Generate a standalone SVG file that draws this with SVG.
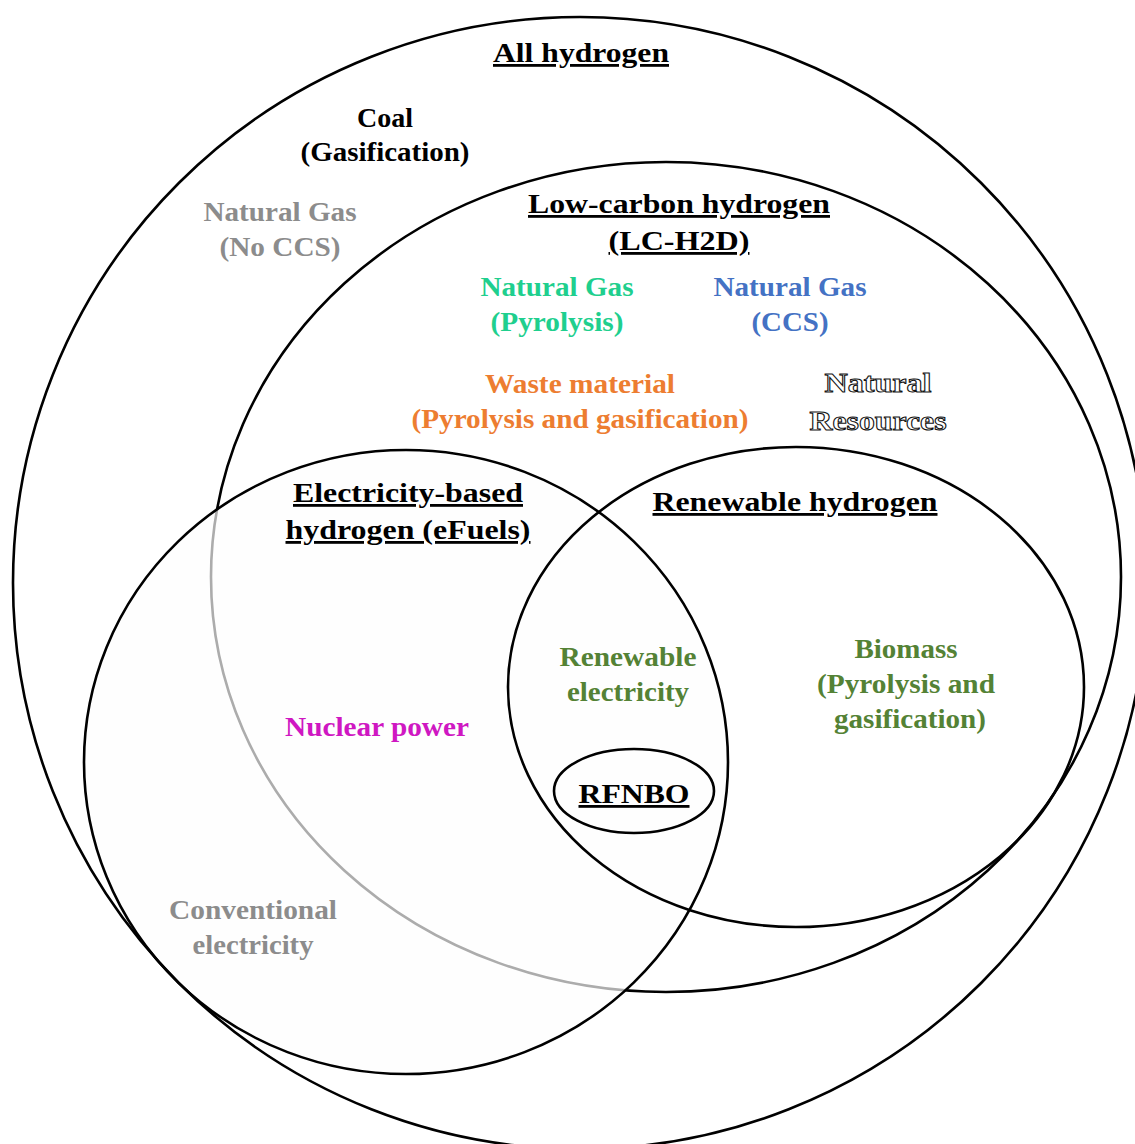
<svg xmlns="http://www.w3.org/2000/svg" width="1135" height="1144" viewBox="0 0 1135 1144">
<style>
.ring{fill:none;stroke:#000;stroke-width:2.6}
.t{font-family:"Liberation Serif","Times New Roman",serif;font-weight:bold;font-size:28px;text-anchor:middle}
.u{text-decoration:underline}
.blk{fill:#000}
.gry{fill:#8c8c8c}
.teal{fill:#1fcf8e}
.blue{fill:#4472c4}
.orng{fill:#ed7d31}
.grn{fill:#548235}
.mag{fill:#cf17c2}
.out{fill:#fff;stroke:#111;stroke-width:1}
</style>
<rect width="1135" height="1144" fill="#fff"/>
<g id="connectors"></g>
<g id="low-carbon">
<ellipse class="ring" cx="666" cy="577" rx="455" ry="415"/>
</g>
<g id="electricity">
<ellipse cx="406" cy="762" rx="322" ry="312" fill="#fdfdfd" fill-opacity="0.68" stroke="#000" stroke-width="2.6"/>
</g>
<g id="all-hydrogen">
<ellipse class="ring" cx="580" cy="583" rx="567" ry="566"/>
</g>
<g id="renewable">
<ellipse class="ring" cx="796" cy="687" rx="288" ry="240"/>
</g>
<g id="rfnbo">
<ellipse class="ring" cx="634" cy="791" rx="80" ry="42"/>
</g>
<g id="labels">
<text class="t blk u" x="581" y="62" textLength="176" lengthAdjust="spacingAndGlyphs">All hydrogen</text>
<text class="t blk" x="385" y="127">Coal</text>
<text class="t blk" x="385" y="161" textLength="169" lengthAdjust="spacingAndGlyphs">(Gasification)</text>
<text class="t gry" x="280" y="221" textLength="153" lengthAdjust="spacingAndGlyphs">Natural Gas</text>
<text class="t gry" x="280" y="256" textLength="121" lengthAdjust="spacingAndGlyphs">(No CCS)</text>
<text class="t blk u" x="679" y="213" textLength="302" lengthAdjust="spacingAndGlyphs">Low-carbon hydrogen</text>
<text class="t blk u" x="679" y="250" textLength="141" lengthAdjust="spacingAndGlyphs">(LC-H2D)</text>
<text class="t teal" x="557" y="296" textLength="153" lengthAdjust="spacingAndGlyphs">Natural Gas</text>
<text class="t teal" x="557" y="331" textLength="133" lengthAdjust="spacingAndGlyphs">(Pyrolysis)</text>
<text class="t blue" x="790" y="296" textLength="153" lengthAdjust="spacingAndGlyphs">Natural Gas</text>
<text class="t blue" x="790" y="331" textLength="77" lengthAdjust="spacingAndGlyphs">(CCS)</text>
<text class="t orng" x="580" y="393" textLength="190" lengthAdjust="spacingAndGlyphs">Waste material</text>
<text class="t orng" x="580" y="428" textLength="337" lengthAdjust="spacingAndGlyphs">(Pyrolysis and gasification)</text>
<text class="t out" x="878" y="392" textLength="107" lengthAdjust="spacingAndGlyphs">Natural</text>
<text class="t out" x="878" y="430" textLength="137" lengthAdjust="spacingAndGlyphs">Resources</text>
<text class="t blk u" x="408" y="502" textLength="230" lengthAdjust="spacingAndGlyphs">Electricity-based</text>
<text class="t blk u" x="408" y="539" textLength="245" lengthAdjust="spacingAndGlyphs">hydrogen (eFuels)</text>
<text class="t blk u" x="795" y="511" textLength="285" lengthAdjust="spacingAndGlyphs">Renewable hydrogen</text>
<text class="t grn" x="628" y="666" textLength="137" lengthAdjust="spacingAndGlyphs">Renewable</text>
<text class="t grn" x="628" y="701" textLength="122" lengthAdjust="spacingAndGlyphs">electricity</text>
<text class="t grn" x="906" y="658" textLength="103" lengthAdjust="spacingAndGlyphs">Biomass</text>
<text class="t grn" x="906" y="693" textLength="178" lengthAdjust="spacingAndGlyphs">(Pyrolysis and</text>
<text class="t grn" x="910" y="728" textLength="152" lengthAdjust="spacingAndGlyphs">gasification)</text>
<text class="t mag" x="377" y="736" textLength="184" lengthAdjust="spacingAndGlyphs">Nuclear power</text>
<text class="t blk u" x="634" y="803" textLength="111" lengthAdjust="spacingAndGlyphs">RFNBO</text>
<text class="t gry" x="253" y="919" textLength="168" lengthAdjust="spacingAndGlyphs">Conventional</text>
<text class="t gry" x="253" y="954" textLength="121" lengthAdjust="spacingAndGlyphs">electricity</text>
</g>
</svg>
